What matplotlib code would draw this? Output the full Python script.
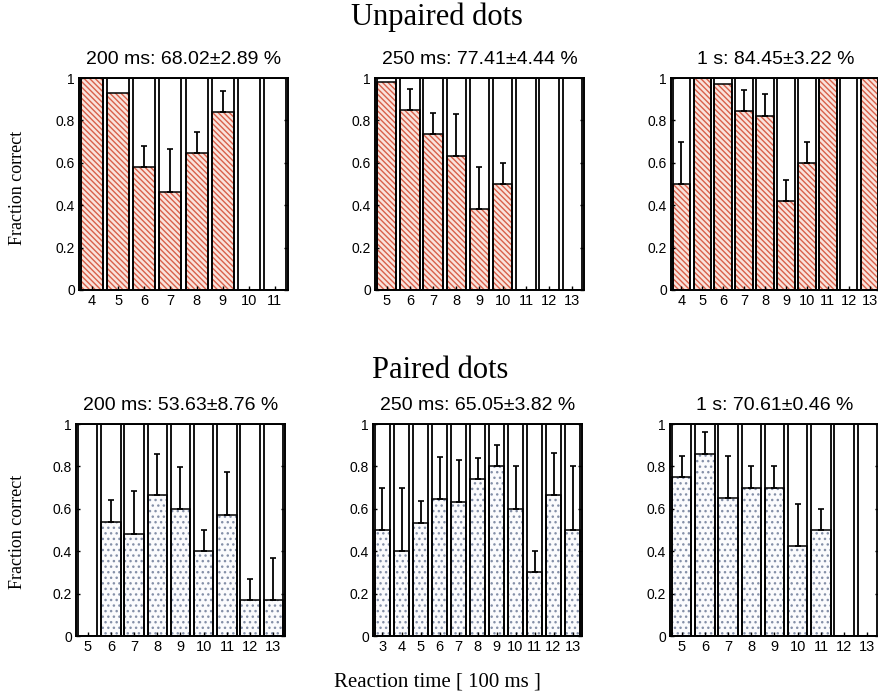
"""Fraction correct per reaction-time bin, unpaired vs paired dots,
for three presentation durations.
"""

import numpy as np
import matplotlib
matplotlib.use("Agg")  # headless
import matplotlib.pyplot as plt

plt.rcParams["hatch.linewidth"] = 1.0

SANS = ["Liberation Sans", "DejaVu Sans"]
SERIF = ["Liberation Serif", "DejaVu Serif"]

# reaction-time bins are in units of 100 ms
unpaired_bins_200 = [4, 5, 6, 7, 8, 9, 10, 11]
unpaired_frac_200 = [1.0, 0.93, 0.58, 0.46, 0.645, 0.84, 0.0, 0.0]
unpaired_err_200 = [0.0, 0.0, 0.10, 0.205, 0.10, 0.10, 0.0, 0.0]

unpaired_bins_250 = [5, 6, 7, 8, 9, 10, 11, 12, 13]
unpaired_frac_250 = [0.98, 0.85, 0.735, 0.63, 0.38, 0.50, 0.0, 0.0, 0.0]
unpaired_err_250 = [0.0, 0.10, 0.10, 0.20, 0.20, 0.10, 0.0, 0.0, 0.0]

unpaired_bins_1s = [4, 5, 6, 7, 8, 9, 10, 11, 12, 13]
unpaired_frac_1s = [0.50, 1.0, 0.97, 0.845, 0.82, 0.42, 0.60, 1.0, 0.0, 1.0]
unpaired_err_1s = [0.20, 0.0, 0.0, 0.10, 0.105, 0.10, 0.10, 0.0, 0.0, 0.0]

paired_bins_200 = [5, 6, 7, 8, 9, 10, 11, 12, 13]
paired_frac_200 = [0.0, 0.54, 0.48, 0.665, 0.60, 0.40, 0.57, 0.17, 0.17]
paired_err_200 = [0.0, 0.10, 0.205, 0.195, 0.195, 0.10, 0.205, 0.10, 0.20]

paired_bins_250 = [3, 4, 5, 6, 7, 8, 9, 10, 11, 12, 13]
paired_frac_250 = [0.50, 0.40, 0.535, 0.645, 0.63, 0.74, 0.80, 0.60, 0.30, 0.665, 0.50]
paired_err_250 = [0.20, 0.30, 0.10, 0.20, 0.20, 0.10, 0.10, 0.20, 0.10, 0.20, 0.30]

paired_bins_1s = [5, 6, 7, 8, 9, 10, 11, 12, 13]
paired_frac_1s = [0.75, 0.86, 0.65, 0.70, 0.70, 0.425, 0.50, 0.0, 0.0]
paired_err_1s = [0.10, 0.10, 0.20, 0.10, 0.10, 0.20, 0.10, 0.0, 0.0]

unpaired_titles = ["200 ms: 68.02\u00b12.89 %", "250 ms: 77.41\u00b14.44 %",
                   "1 s: 84.45\u00b13.22 %"]
paired_titles = ["200 ms: 53.63\u00b18.76 %", "250 ms: 65.05\u00b13.82 %",
                 "1 s: 70.61\u00b10.46 %"]

ytick_vals = [0, 0.2, 0.4, 0.6, 0.8, 1]
ytick_labels = ["0", "0.2", "0.4", "0.6", "0.8", "1"]

HATCH_RED = dict(facecolor="#f9e3dc", edgecolor="#d8604a", hatch="\\\\\\\\\\\\")
DOTS_GREY = dict(facecolor="#fbfbfd", edgecolor="#8590a8", hatch="...")

W, H = 879, 698


def draw_panel(ax, bins, frac, err, title, fill_kw):
    x = np.asarray(bins, dtype=float)
    frac = np.asarray(frac, dtype=float)
    err = np.asarray(err, dtype=float)
    bw = 0.84

    ax.bar(x, frac, width=bw, linewidth=0, zorder=1, **fill_kw)
    ax.bar(x, frac, width=bw, fill=False, edgecolor="black", linewidth=1.1, zorder=2)
    ax.bar(x, np.ones_like(x), width=bw, fill=False, edgecolor="black",
           linewidth=1.3, zorder=3)

    has_err = err > 0
    if has_err.any():
        ax.errorbar(x[has_err], frac[has_err],
                    yerr=[np.zeros(has_err.sum()), err[has_err]],
                    fmt="none", ecolor="black", elinewidth=1.3,
                    capsize=2.2, capthick=1.2, zorder=4)

    ax.set_xlim(x[0] - 0.5, x[-1] + 0.5)
    ax.set_ylim(0, 1)
    ax.set_xticks(x)
    ax.set_xticklabels([str(b) for b in bins], fontsize=10.5, family=SANS)
    ax.set_yticks(ytick_vals)
    ax.set_yticklabels(ytick_labels, fontsize=10, family=SANS)
    ax.tick_params(axis="both", direction="in", length=3, width=1, pad=3,
                   right=True)
    for sp in ax.spines.values():
        sp.set_linewidth(1.4)
    ax.text(0.5, 1.065, title, transform=ax.transAxes, ha="center",
            va="baseline", fontsize=14, family=SANS)


fig = plt.figure(figsize=(W / 100, H / 100), dpi=100)

top_lefts = [79, 375, 671]
bot_lefts = [76, 373, 670]
ax_w = 209
ax_h = 212

top_panels = [
    (unpaired_bins_200, unpaired_frac_200, unpaired_err_200),
    (unpaired_bins_250, unpaired_frac_250, unpaired_err_250),
    (unpaired_bins_1s, unpaired_frac_1s, unpaired_err_1s),
]
bot_panels = [
    (paired_bins_200, paired_frac_200, paired_err_200),
    (paired_bins_250, paired_frac_250, paired_err_250),
    (paired_bins_1s, paired_frac_1s, paired_err_1s),
]

for left, (bins, frac, err), title in zip(top_lefts, top_panels, unpaired_titles):
    ax = fig.add_axes([left / W, (H - 290) / H, ax_w / W, ax_h / H])
    draw_panel(ax, bins, frac, err, title, HATCH_RED)

for left, (bins, frac, err), title in zip(bot_lefts, bot_panels, paired_titles):
    ax = fig.add_axes([left / W, (H - 636) / H, ax_w / W, ax_h / H])
    draw_panel(ax, bins, frac, err, title, DOTS_GREY)

fig.text(437 / W, 1 - 17 / H, "Unpaired dots", ha="center", va="center",
         fontsize=22, family=SERIF)
fig.text(440 / W, 1 - 370 / H, "Paired dots", ha="center", va="center",
         fontsize=22, family=SERIF)
fig.text(437 / W, 1 - 682 / H, "Reaction time [ 100 ms ]", ha="center",
         va="center", fontsize=15, family=SERIF)
for yc in (188, 532):
    fig.text(18 / W, 1 - yc / H, "Fraction correct", ha="center", va="center",
             rotation=90, fontsize=13, family=SERIF)

fig.savefig("out.png", dpi=100, facecolor="white")
plt.close(fig)
